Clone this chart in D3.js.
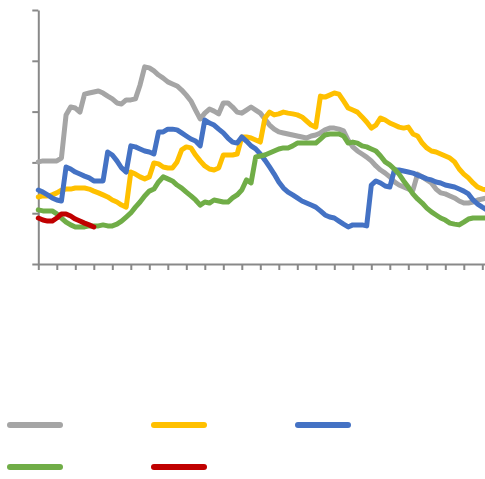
<!DOCTYPE html>
<html><head><meta charset="utf-8">
<script src="https://cdn.jsdelivr.net/npm/d3@7"></script>
<style>html,body{margin:0;padding:0;background:#fff;}svg{display:block;}</style>
</head><body>
<script>
const yTicks = [0, 20, 40, 60, 80, 100];
const xTickStep = 4;
const gray = [40.2,40.6,40.6,40.6,40.6,41.7,58.7,61.8,61.4,59.8,66.9,67.3,67.7,68.1,67.3,66.1,65.0,63.4,63.0,64.6,64.6,65.0,70.5,77.6,77.2,76.0,74.4,73.2,71.7,70.9,70.1,68.5,66.5,64.2,60.6,57.1,59.4,61.0,60.2,59.1,63.4,63.4,61.8,59.8,59.4,60.6,61.8,60.6,59.4,57.1,54.7,53.1,52.0,51.6,51.2,50.8,50.4,50.0,49.6,50.4,50.8,51.6,52.8,53.5,53.5,53.1,52.4,48.8,46.1,44.5,43.3,42.1,40.6,38.6,37.0,35.8,34.3,32.3,31.1,30.3,29.5,29.1,35.4,34.3,33.1,31.9,29.5,28.0,27.6,26.8,26.0,24.8,24.0,24.0,24.4,25.2,25.6,26.0];
const yellow = [26.4,26.8,26.8,27.2,28.0,29.1,29.5,29.5,29.9,29.9,29.9,29.5,28.7,28.0,27.2,26.4,25.2,24.4,23.2,22.4,36.2,35.4,34.3,33.5,34.3,39.8,39.4,38.2,37.8,37.8,40.2,44.9,46.1,45.7,42.9,40.6,38.6,37.4,37.0,37.8,42.9,42.9,42.9,43.3,50.0,50.0,49.6,48.8,48.0,57.5,59.8,58.7,59.1,59.8,59.4,59.1,58.7,57.9,56.3,54.7,53.9,66.1,65.7,66.5,67.3,66.9,64.2,61.4,60.6,59.8,57.9,55.9,53.5,54.7,57.5,56.7,55.5,54.7,53.9,53.5,53.9,51.2,50.4,47.6,45.7,44.5,44.1,43.3,42.5,41.7,40.2,37.4,35.4,33.9,31.9,30.3,29.5,29.1];
const blue = [29.1,28.3,27.2,26.0,25.2,24.8,38.2,37.4,36.2,35.4,34.6,33.9,32.7,32.7,32.7,44.1,42.9,40.6,37.8,36.2,46.5,46.1,45.3,44.5,44.1,43.3,52.0,52.0,53.1,53.1,52.8,51.6,50.4,49.2,48.4,46.5,56.7,55.5,54.7,53.1,51.6,49.6,48.0,47.6,50.0,48.4,46.5,45.3,43.3,40.9,38.2,35.4,32.3,29.9,28.3,27.2,26.0,24.8,24.0,23.2,22.4,20.9,19.3,18.5,18.1,16.9,15.7,14.6,15.4,15.4,15.4,15.0,31.1,32.7,31.9,30.7,30.3,37.0,37.0,36.6,36.2,35.8,35.0,34.3,33.5,33.1,32.3,31.9,31.1,30.7,30.3,29.5,28.7,27.6,25.2,23.6,22.4,21.3];
const green = [21.3,20.9,20.9,20.9,19.7,18.1,16.5,15.4,14.6,14.6,14.6,15.0,15.0,15.0,15.4,15.0,15.0,15.7,16.9,18.5,20.1,22.4,24.4,26.8,28.7,29.5,32.3,34.3,33.5,32.7,31.1,29.9,28.3,26.8,25.2,23.2,24.4,24.0,25.2,24.8,24.4,24.4,26.0,27.2,29.1,33.1,31.9,42.1,42.5,42.9,43.7,44.5,45.3,45.7,45.7,46.5,47.6,47.6,47.6,47.6,47.6,49.2,50.8,51.2,51.2,51.2,50.4,47.6,48.0,47.6,46.5,46.1,45.3,44.5,42.5,40.2,39.0,37.4,35.4,32.7,30.3,27.6,25.6,24.0,22.0,20.5,19.3,18.1,17.3,16.1,15.7,15.4,16.5,17.7,18.1,18.1,18.1,18.1];
const red = [18.1,17.3,16.9,16.9,18.1,19.7,19.7,18.9,17.7,16.9,16.1,15.4,14.6];
const seriesColors = ["#A5A5A5","#FFC000","#4472C4","#70AD47","#C00000"];

const W = 485, H = 479;
const svg = d3.select("body").append("svg").attr("width", W).attr("height", H);

const nPts = gray.length;
const x = d3.scaleLinear().domain([0, nPts - 1]).range([38.3, 38.3 + (nPts - 1) * 4.625]);
const y = d3.scaleLinear().domain([0, 100]).range([264, 10]);

const axisColor = "#898989";
const gx = svg.append("g").attr("transform", "translate(0,264)")
  .call(d3.axisBottom(x).tickValues(d3.range(0, nPts, xTickStep)).tickSize(6).tickSizeOuter(0).tickFormat(""));
const gy = svg.append("g").attr("transform", "translate(38.3,0)")
  .call(d3.axisLeft(y).tickValues(yTicks).tickSize(6).tickSizeOuter(0).tickFormat(""));
[gx, gy].forEach(g => {
  g.selectAll("path,line").attr("stroke", axisColor).attr("stroke-width", 2);
});

const line = d3.line().x((d, i) => x(i)).y(d => y(d));
const all = [gray, yellow, blue, green, red];
all.forEach((s, k) => {
  svg.append("path").datum(s).attr("d", line)
    .attr("fill", "none").attr("stroke", seriesColors[k])
    .attr("stroke-width", 5).attr("stroke-linejoin", "round").attr("stroke-linecap", "round");
});

// legend (no labels shown in reference)
const legendPos = [[10, 425], [154, 425], [298, 425], [10, 467], [154, 467]];
legendPos.forEach((p, k) => {
  svg.append("line").attr("x1", p[0]).attr("x2", p[0] + 50).attr("y1", p[1]).attr("y2", p[1])
    .attr("stroke", seriesColors[k]).attr("stroke-width", 6).attr("stroke-linecap", "round");
});
</script>
</body></html>
